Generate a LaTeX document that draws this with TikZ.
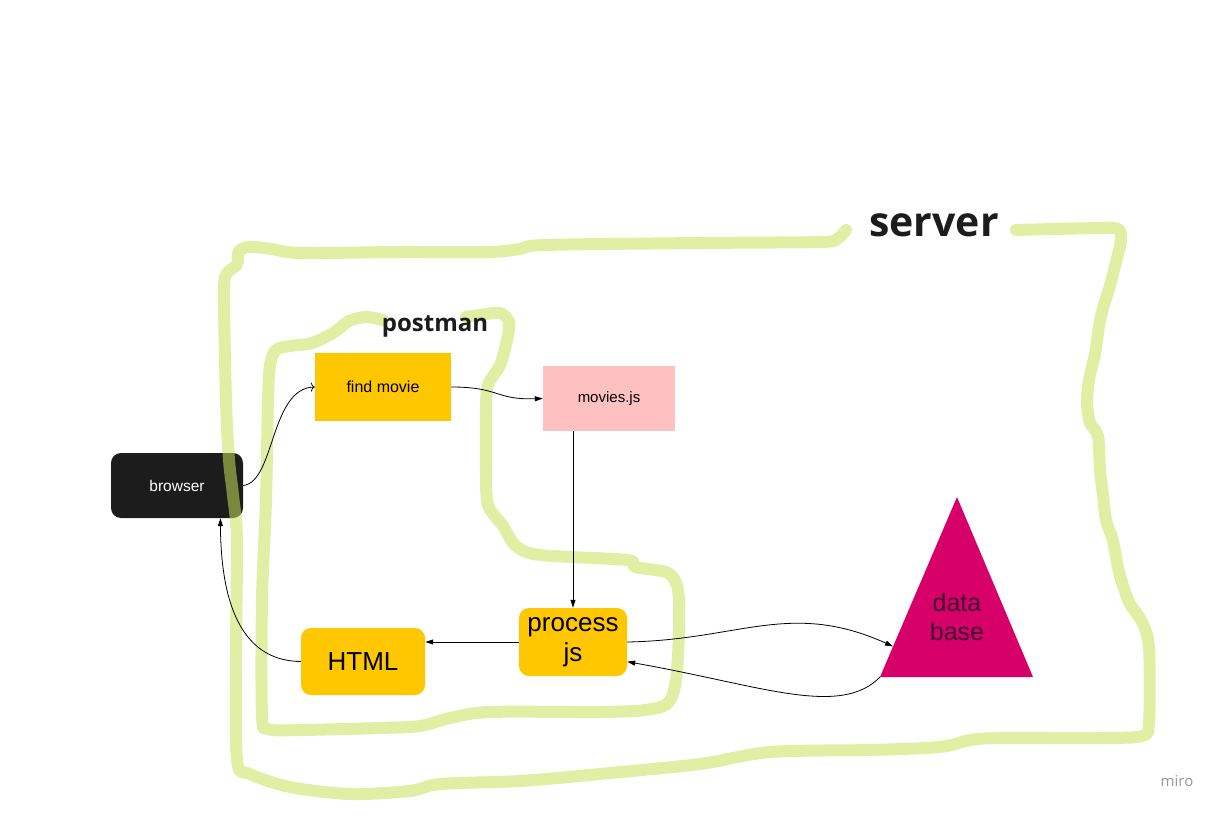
\documentclass[tikz,border=0pt]{standalone}
\usepackage{fontspec}
\setmainfont{Liberation Sans}
\newfontfamily\headfont{Open Sans}
\usetikzlibrary{arrows.meta,calc}
\definecolor{stickyorange}{RGB}{255,199,0}
\definecolor{stickypink}{RGB}{255,192,194}
\definecolor{stickyblack}{RGB}{28,28,28}
\definecolor{dbmagenta}{RGB}{214,0,104}
\definecolor{dbtext}{RGB}{60,10,50}
\definecolor{marker}{RGB}{198,226,89}

\begin{document}
\begin{tikzpicture}[x=1pt,y=1pt,yscale=-1,xscale=1,
	sticky/.style={minimum width=#1, inner sep=0pt},
	hand/.style={draw=marker, draw opacity=0.55, line width=12pt, line cap=round, line join=round},
	link/.style={draw, line width=0.8pt},
	tip/.tip={Triangle[length=8pt,width=5pt]}]
	\useasboundingbox (0,0) rectangle (1224,816);
	
	% Text Node
	\draw (177,485.5) node [sticky=132pt, minimum height=65pt, fill=stickyblack, rounded corners=10pt, text=white, font=\fontsize{15.5}{18}\selectfont] (browser) {browser};
	
	% server outline
	\draw [hand] plot [smooth, tension=0.5] coordinates {(846,230) (837,239) (820,242) (700,243) (545,245) (520,249) (490,252) (400,252) (300,253) (272,249) (250,247) (239,251) (237,265) (228,272) (224,290) (226,400) (229,460) (233,495) (237,540) (236,650) (237,760) (250,774) (290,787) (350,794) (410,791) (440,784) (520,781) (600,774) (700,764) (770,752) (870,750) (940,747) (970,740) (1000,738) (1100,738) (1142,736) (1149,722) (1149,648) (1142,622) (1129,602) (1119,572) (1113,541) (1106,520) (1103,495) (1100,470) (1098,436) (1090,423) (1087,404) (1089,380) (1095,354) (1099,326) (1103,308) (1109,289) (1115,266) (1121,240) (1118,229) (1100,228) (1016,230)};
	% postman outline
	\draw [hand] plot [smooth, tension=0.5] coordinates {(383,320) (366,317) (349,321) (333,333) (312,343) (290,346) (276,350) (270,365) (268,400) (266,500) (262,600) (262,715) (268,729) (300,730) (380,728) (420,726) (450,718) (490,712) (600,712) (645,710) (668,703) (676,680) (679,630) (678,590) (668,573) (635,567) (627,560) (540,555) (516,546) (503,526) (488,505) (486,470) (486,410) (488,385) (500,365) (507,340) (509,322) (500,313) (480,315) (466,317)};
	
	% Text Node
	\draw (383,387) node [sticky=136pt, minimum height=68pt, fill=stickyorange, font=\fontsize{16}{19}\selectfont] (find) {find movie};
	% Text Node
	\draw (609,398.5) node [sticky=132pt, minimum height=65pt, fill=stickypink, font=\fontsize{15}{18}\selectfont] (movies) {movies.js};
	% Text Node
	\draw (573,642) node [sticky=108pt, minimum height=68pt, fill=stickyorange, rounded corners=10pt, align=center, font=\fontsize{26}{30}\selectfont] (process) {process\\js};
	% Text Node
	\draw (363,661.5) node [sticky=124pt, minimum height=67pt, fill=stickyorange, rounded corners=10pt, font=\fontsize{26}{30}\selectfont] (html) {HTML};
	
	% data base triangle
	\coordinate (dbtop) at (957,497);
	\coordinate (dbleft) at (880,677);
	\coordinate (dbright) at (1033,677);
	\fill [dbmagenta] (dbtop) -- (dbright) -- (dbleft) -- cycle;
	\coordinate (dbin) at ($(dbleft)!0.17!(dbtop)$);
	% Text Node
	\draw (957,617) node [align=center, text=dbtext, font=\fontsize{25}{29}\selectfont] (db) {data\\base};
	
	% Text Node
	\draw (435,326) node [font=\headfont\bfseries\fontsize{24}{28}\selectfont, text=stickyblack] (postman) {postman};
	% Text Node
	\draw (934,225) node [font=\headfont\bfseries\fontsize{41}{47}\selectfont, text=stickyblack] (server) {server};
	% Text Node
	\draw (1177,781) node [font=\headfont\fontsize{15}{18}\selectfont, text=black!40] (miro) {miro};
	
	% Connection
	\draw [link, -{To[length=4pt,width=9pt]}] (browser.east) .. controls (275,482) and (270,388) .. (find.west);
	% Connection
	\draw [link, -tip] (find.east) .. controls (500,387) and (495,400) .. (movies.west);
	% Connection
	\draw [link, -tip] (process.north |- movies.south) -- (process.north);
	% Connection
	\draw [link, -tip] (process.west) -- (html.east |- process.west);
	% Connection
	\draw [link, -tip] (html.west) .. controls (245,661) and (221,610) .. (browser.-37);
	% Connection
	\draw [link, -tip] (process.east) .. controls (740,640) and (790,600) .. (dbin);
	% Connection
	\draw [link, -tip] (dbleft) .. controls (840,718) and (760,685) .. (process.-20);
	
\end{tikzpicture}
\end{document}
